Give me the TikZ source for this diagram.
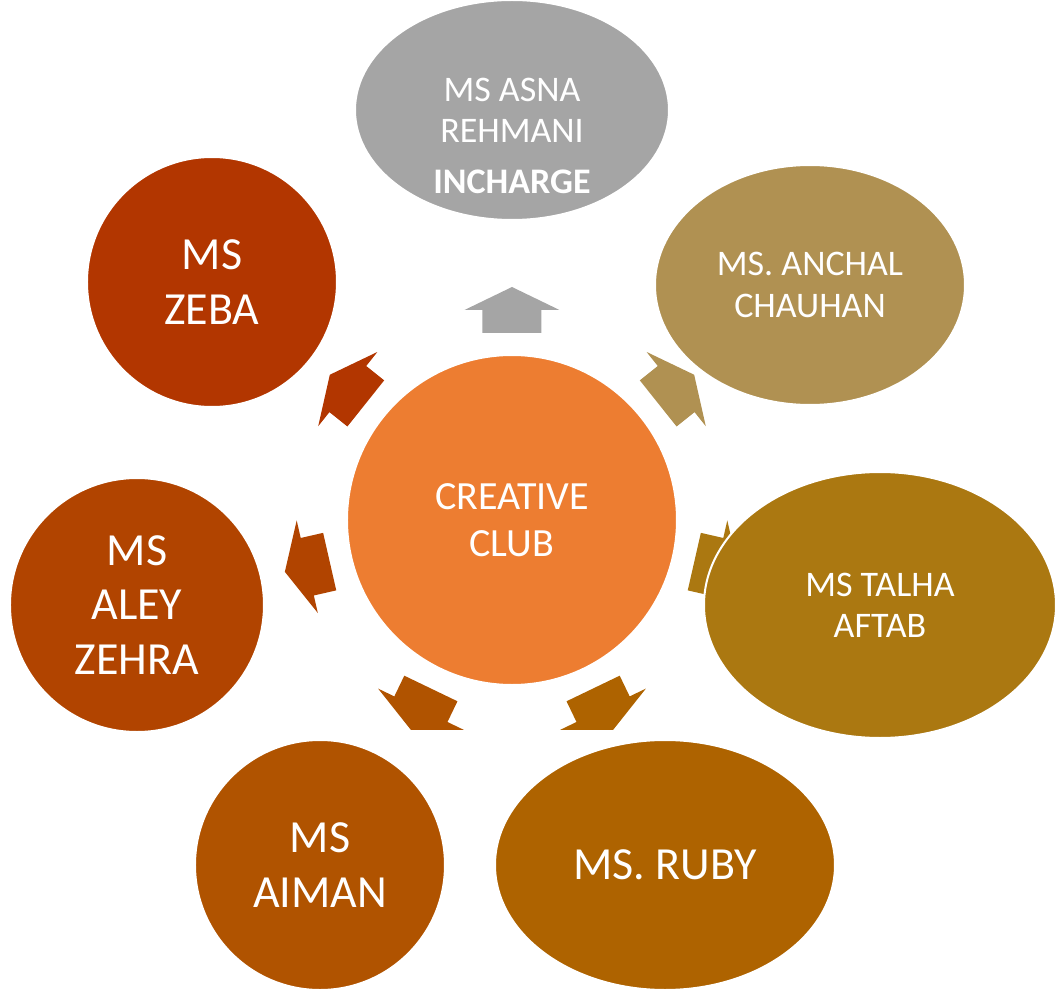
\documentclass[tikz,border=0pt]{standalone}
\usepackage{fontspec}
\setmainfont{Carlito}
\usepackage{xcolor}
\usetikzlibrary{shapes.geometric}

\definecolor{clubcol}{HTML}{ED7D31}
\definecolor{asnacol}{HTML}{A5A5A5}
\definecolor{anchalcol}{HTML}{B09152}
\definecolor{talhacol}{HTML}{AB7811}
\definecolor{rubycol}{HTML}{AE6300}
\definecolor{aimancol}{HTML}{B05300}
\definecolor{aleycol}{HTML}{B14400}
\definecolor{zebacol}{HTML}{B23600}

\newcommand{\smalltxt}{\fontsize{27}{31}\selectfont}
\newcommand{\bigtxt}{\fontsize{34.5}{41}\selectfont}

\begin{document}
\begin{tikzpicture}[x=0.75pt,y=0.75pt,
  every node/.style={text=white,align=center,inner sep=0pt},
  oval/.style={ellipse,draw=white,line width=1.5pt},
  disc/.style={circle,draw=white,line width=1.5pt}]
\useasboundingbox (-512,-473) rectangle (545,520);

% block arrows from the club out to each member (under the members)
\foreach \ang/\col in {90/asnacol,38.57/anchalcol,-12.86/talhacol,-64.29/rubycol,-115.71/aimancol,-167.14/aleycol,141.43/zebacol}
  \fill[\col,rotate=\ang] (187,-29.5) -- (210,-29.5) -- (210,-47.5) -- (233,0) -- (210,47.5) -- (210,29.5) -- (187,29.5) -- cycle;

\node[oval,fill=asnacol,minimum width=235.5pt,minimum height=165pt] (asna) at (0,410) {};
\node[font=\smalltxt] (asnatxt) at (0,384) {MS ASNA\\REHMANI\\[7pt]\textbf{INCHARGE}};
\node[oval,fill=anchalcol,minimum width=232.5pt,minimum height=180pt,font=\smalltxt] (anchal) at (298,235) {MS. ANCHAL\\CHAUHAN};
\node[oval,fill=talhacol,minimum width=264pt,minimum height=199.5pt,font=\smalltxt] (talha) at (368,-85) {MS TALHA\\AFTAB};
\node[oval,fill=rubycol,minimum width=255pt,minimum height=187.5pt,font=\bigtxt] (ruby) at (153,-345) {MS. RUBY};
\node[disc,fill=aimancol,minimum size=187.5pt,font=\bigtxt] (aiman) at (-192,-345) {MS\\AIMAN};
\node[disc,fill=aleycol,minimum size=190.5pt,font=\bigtxt] (aley) at (-375,-85) {MS\\ALEY\\ZEHRA};
\node[disc,fill=zebacol,minimum size=187.5pt,font=\bigtxt] (zeba) at (-300,238) {MS\\ZEBA};
\node[disc,fill=clubcol,minimum size=247.5pt,font=\fontsize{30}{35}\selectfont] (club) at (0,0) {CREATIVE\\CLUB};
\end{tikzpicture}
\end{document}
